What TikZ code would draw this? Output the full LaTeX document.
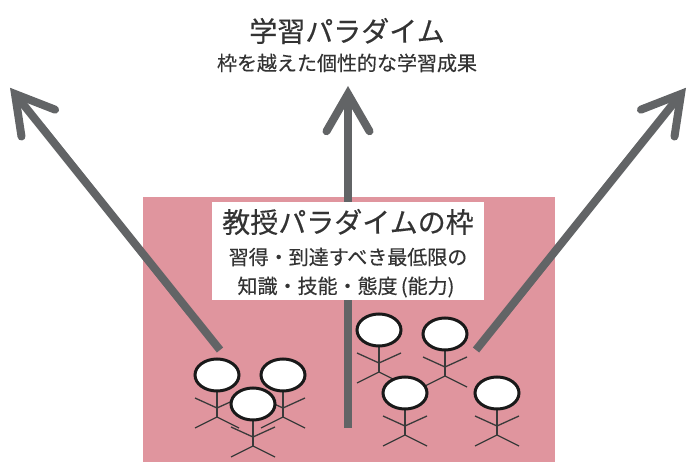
\documentclass[tikz,border=0pt]{standalone}
\usepackage{fontspec}
\setmainfont{Noto Sans CJK JP}
\newfontfamily\jp[FakeBold=0.3]{Noto Sans CJK JP}
\usetikzlibrary{calc}
\definecolor{framepink}{HTML}{E0959E}
\definecolor{arrowgray}{HTML}{626466}
\definecolor{textgray}{HTML}{333333}
\definecolor{stickgray}{HTML}{3A3A3A}
\tikzset{
  bigarrow/.style={draw=arrowgray, line width=8pt, line cap=round, line join=miter},
  shaftline/.style={draw=arrowgray, line width=8pt, line cap=butt},
  stickline/.style={draw=stickgray, line width=1.3pt},
  headshape/.style={draw=black!90, fill=white, line width=3pt},
  lbl/.style={text=textgray, inner sep=0pt, font=\jp},
  person/.pic={
    \draw[stickline] (0,16) -- (0,42);
    \draw[stickline] (-22,23) -- (0,33) -- (22,23);
    \draw[stickline] (-22,53) -- (0,42) -- (22,53);
    \draw[headshape] (0,0) ellipse [x radius=22, y radius=16];
  }
}
\begin{document}
\begin{tikzpicture}[x=1pt,y=-1pt]
\useasboundingbox (0,0) rectangle (693,462);
% pink frame
\fill[framepink] (143,197) rectangle (555,462);
% arrows
\coordinate (ctip) at (348,94);
\coordinate (ctail) at (348,428);
\coordinate (ltip) at (15,94);
\coordinate (ltail) at (220,350);
\coordinate (rtip) at (681,94);
\coordinate (rtail) at (476,350);
\foreach \t/\s in {ctip/ctail, ltip/ltail, rtip/rtail}{
  \draw[shaftline] (\s) -- (\t);
  \draw[bigarrow] ($(\t)!43pt!30:(\s)$) -- (\t) -- ($(\t)!43pt!-30:(\s)$);
}
% title
\node[lbl, font=\jp\fontsize{28}{30}\selectfont] (title) at (347,31) {学習パラダイム};
\node[lbl, font=\jp\fontsize{20}{22}\selectfont] (subtitle) at (347,63) {枠を越えた個性的な学習成果};
% box
\fill[white] (212,202) rectangle (484,300);
\node[lbl, font=\jp\fontsize{28}{30}\selectfont] (boxtitle) at (348,222) {教授パラダイムの枠};
\node[lbl, font=\jp\fontsize{20}{22}\selectfont] (boxl2) at (348,257) {習得・到達すべき最低限の};
\node[lbl, font=\jp\fontsize{20}{22}\selectfont] (boxl3) at (346,287) {知識・技能・態度\,(能力)};
% people
\pic at (217,375) {person};
\pic at (283,375) {person};
\pic at (253,404) {person};
\pic at (379,330) {person};
\pic at (445,334) {person};
\pic at (405,393) {person};
\pic at (497,393) {person};
\end{tikzpicture}
\end{document}
